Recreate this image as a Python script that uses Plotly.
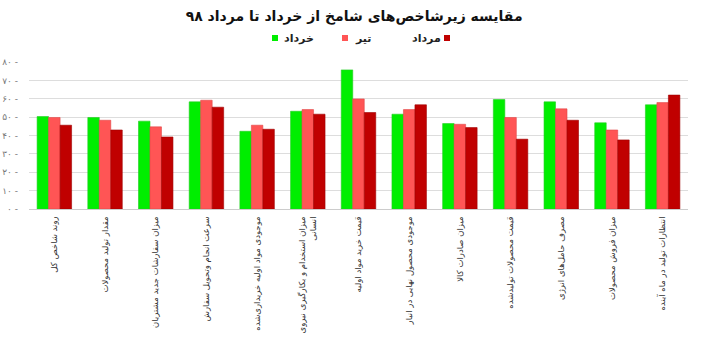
import plotly.graph_objects as go

categories = [
    "روند شاخص کل",
    "مقدار تولید محصولات",
    "میزان سفارشات جدید مشتریان",
    "سرعت انجام وتحویل سفارش",
    "موجودی مواد اولیه خریداری‌شده",
    "میزان استخدام و بکارگیری نیروی<br>انسانی",
    "قیمت خرید مواد اولیه",
    "موجودی محصول نهایی در انبار",
    "میزان صادرات کالا",
    "قیمت محصولات تولیدشده",
    "مصرف حامل‌های انرژی",
    "میزان فروش محصولات",
    "انتظارات تولید در ماه آینده",
]
khordad = [50.3, 49.8, 47.8, 58.3, 42.3, 53.2, 75.7, 51.6, 46.5, 59.6, 58.3, 46.9, 56.7]
tir = [49.8, 48.3, 44.7, 59.2, 45.6, 54.1, 59.9, 54.1, 46.1, 49.8, 54.5, 43.0, 57.9]
mordad = [45.6, 43.0, 39.2, 55.4, 43.4, 51.6, 52.5, 56.7, 44.3, 38.0, 48.3, 37.6, 62.0]

series_names = ["خرداد", "تیر", "مرداد"]
series_values = [khordad, tir, mordad]
colors = ["#00ee00", "#ff5555", "#c00000"]
edge_colors = ["#22cc22", "#e04848", "#a00000"]

tick_vals = [0, 10, 20, 30, 40, 50, 60, 70, 80]
tick_text = ["۰ -", "۱۰ -", "۲۰ -", "۳۰ -", "۴۰ -", "۵۰ -", "۶۰ -", "۷۰ -", "۸۰ -"]

FONT = "DejaVu Sans"
W, H = 704, 353
ML, MR, MT, MB = 29, 16, 62, 144

fig = go.Figure()
for name, vals, c, ec in zip(series_names, series_values, colors, edge_colors):
    fig.add_trace(go.Bar(
        x=categories, y=vals, name=name,
        marker=dict(color=c, line=dict(color=ec, width=0.6)),
        showlegend=False,
    ))

# custom RTL-style legend
def px_to_paper_x(px):
    return (px - ML) / (W - ML - MR)

def px_to_paper_y(py):
    return 1 - (py - MT) / (H - MT - MB)

legend_items = [
    (272, 282, "left"),
    (342, 353, "left"),
    (444, 443, "right"),
]
ly = 38
for (sq, tx, xa), name, c in zip(legend_items, series_names, colors):
    fig.add_shape(type="rect", xref="paper", yref="paper",
                  x0=px_to_paper_x(sq), x1=px_to_paper_x(sq + 6),
                  y0=px_to_paper_y(ly + 3), y1=px_to_paper_y(ly - 3),
                  fillcolor=c, line=dict(width=0))
    fig.add_annotation(text="<b>%s</b>" % name, xref="paper", yref="paper",
                       x=px_to_paper_x(tx), y=px_to_paper_y(ly),
                       xanchor=xa, yanchor="middle", showarrow=False,
                       font=dict(family=FONT, size=11, color="#222222"))

fig.update_layout(
    width=W, height=H,
    margin=dict(l=ML, r=MR, t=MT, b=MB, pad=0, autoexpand=False),
    paper_bgcolor="white", plot_bgcolor="white",
    barmode="group", bargap=0.32, bargroupgap=0,
    title=dict(text="<b>مقایسه زیرشاخص‌های شامخ از خرداد تا مرداد ۹۸</b>",
               x=0.503, xanchor="center", y=0.955, yanchor="middle",
               font=dict(family=FONT, size=14, color="#111111")),
    font=dict(family=FONT),
)
fig.update_yaxes(range=[0, 80], tickvals=tick_vals, ticktext=tick_text,
                 showgrid=True, gridcolor="#dddddd", gridwidth=1,
                 zeroline=False, showline=False, ticks="",
                 ticklabelstandoff=10, automargin=False,
                 tickfont=dict(family=FONT, size=9, color="#777777"))
fig.update_xaxes(tickangle=-90, showline=True, linecolor="#cccccc", linewidth=1,
                 ticks="", showgrid=False, automargin=False,
                 ticklabelstandoff=3,
                 tickfont=dict(family=FONT, size=8.5, color="#333333"))

fig.write_html("out.html")
